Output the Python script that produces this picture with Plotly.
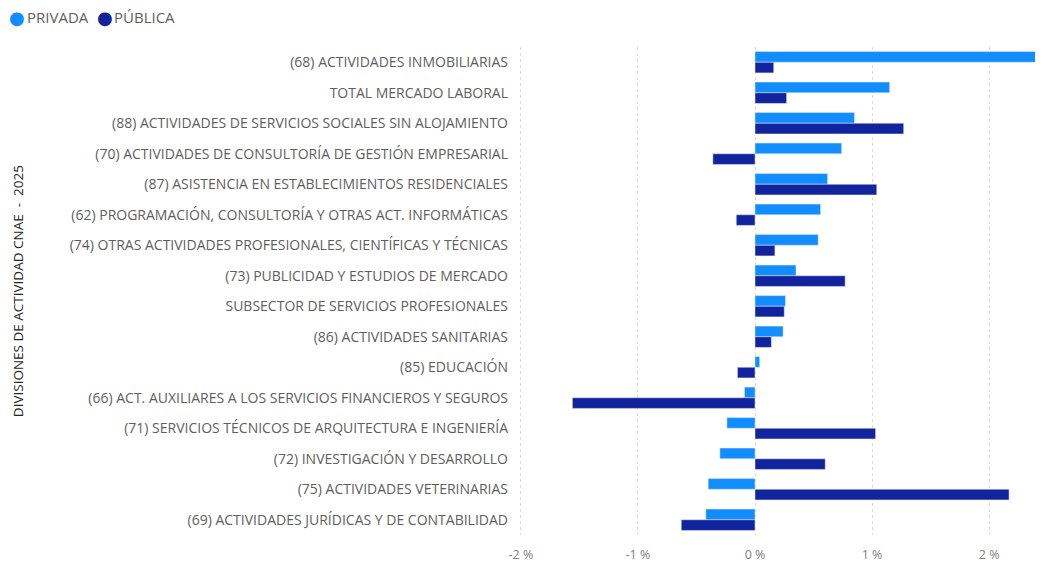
import plotly.graph_objects as go

# Data (percent)
categories = [
    "(68) ACTIVIDADES INMOBILIARIAS",
    "TOTAL MERCADO LABORAL",
    "(88) ACTIVIDADES DE SERVICIOS SOCIALES SIN ALOJAMIENTO",
    "(70) ACTIVIDADES DE CONSULTORÍA DE GESTIÓN EMPRESARIAL",
    "(87) ASISTENCIA EN ESTABLECIMIENTOS RESIDENCIALES",
    "(62) PROGRAMACIÓN, CONSULTORÍA Y OTRAS ACT. INFORMÁTICAS",
    "(74) OTRAS ACTIVIDADES PROFESIONALES, CIENTÍFICAS Y TÉCNICAS",
    "(73) PUBLICIDAD Y ESTUDIOS DE MERCADO",
    "SUBSECTOR DE SERVICIOS PROFESIONALES",
    "(86) ACTIVIDADES SANITARIAS",
    "(85) EDUCACIÓN",
    "(66) ACT. AUXILIARES A LOS SERVICIOS FINANCIEROS Y SEGUROS",
    "(71) SERVICIOS TÉCNICOS DE ARQUITECTURA E INGENIERÍA",
    "(72) INVESTIGACIÓN Y DESARROLLO",
    "(75) ACTIVIDADES VETERINARIAS",
    "(69) ACTIVIDADES JURÍDICAS Y DE CONTABILIDAD",
]
privada = [2.60, 1.15, 0.85, 0.74, 0.62, 0.56, 0.54, 0.35, 0.26, 0.24,
           0.04, -0.09, -0.24, -0.30, -0.40, -0.42]
publica = [0.16, 0.27, 1.27, -0.36, 1.04, -0.16, 0.17, 0.77, 0.25, 0.14,
           -0.15, -1.56, 1.03, 0.60, 2.17, -0.63]
tick_vals = [-2, -1, 0, 1, 2]
tick_text = ["-2 %", "-1 %", "0 %", "1 %", "2 %"]
series_names = ["PRIVADA", "PÚBLICA"]

COLORS = ["#118DFF", "#12239E"]
FONT = "Open Sans"

fig = go.Figure()
for name, values, color in zip(series_names, [privada, publica], COLORS):
    fig.add_trace(go.Bar(y=categories, x=values, orientation="h", name=name,
                         marker_color=color))

# compact legend with round markers, drawn as annotations
legend_y = 1.061
legend_items = [(-0.9432, -0.9261), (-0.7765, -0.7614)]  # (dot x, text x) in paper units
annotations = [
    dict(text="DIVISIONES DE ACTIVIDAD CNAE  -  2025", textangle=-90,
         xref="paper", yref="paper", x=-0.941, y=0.5,
         xanchor="center", yanchor="middle", showarrow=False,
         font=dict(size=13.5, color="#252423")),
]
for name, color, (dx, tx) in zip(series_names, COLORS, legend_items):
    annotations.append(dict(text="●", xref="paper", yref="paper", x=dx, y=legend_y,
                            xanchor="center", yanchor="middle", showarrow=False, borderpad=0,
                            font=dict(size=18, color=color, family="DejaVu Sans")))
    annotations.append(dict(text=name, xref="paper", yref="paper", x=tx, y=legend_y,
                            xanchor="left", yanchor="middle", showarrow=False, borderpad=0,
                            font=dict(size=15, color="#605E5C")))

fig.update_layout(
    width=1035, height=559,
    barmode="group", bargap=0.3, bargroupgap=0,
    showlegend=False,
    plot_bgcolor="white", paper_bgcolor="white",
    margin=dict(l=507, r=0, t=39, b=32),
    font=dict(family=FONT, size=14, color="#605E5C"),
    xaxis=dict(range=[-2.05, 2.46], tickvals=tick_vals, ticktext=tick_text,
               showgrid=True, gridcolor="#D9D9D9", griddash="dot", gridwidth=1,
               zeroline=False, ticklabelstandoff=10,
               tickfont=dict(size=12.5, color="#808080")),
    yaxis=dict(autorange="reversed", showgrid=False, zeroline=False,
               ticklabelstandoff=6, tickfont=dict(size=14, color="#605E5C")),
    annotations=annotations,
)

fig.write_html("out.html")
